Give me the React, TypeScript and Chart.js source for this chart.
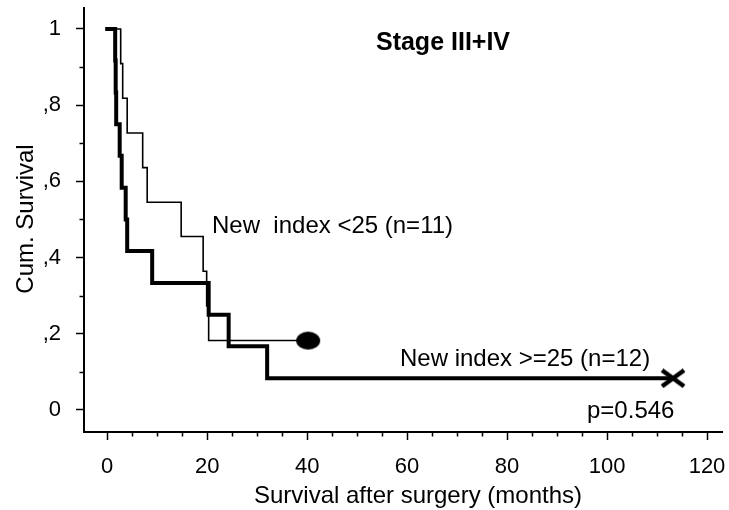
import React, { useEffect, useRef } from "react";
import { Chart, registerables } from "chart.js";

Chart.register(...registerables);

// Kaplan-Meier curves (months, cumulative survival)
const lowMonths = [0, 2.7, 3.1, 4.0, 7.1, 8.0, 14.8, 19.2, 19.9, 20.3, 40.2];
const lowSurvival = [1, 0.909, 0.818, 0.727, 0.636, 0.545, 0.455, 0.364, 0.273, 0.182, 0.182];
const highMonths = [0, 1.6, 1.7, 1.8, 2.5, 2.9, 3.7, 4.0, 9.0, 20.3, 24.3, 32.0, 113.2];
const highSurvival = [1, 0.917, 0.833, 0.75, 0.667, 0.583, 0.5, 0.417, 0.333, 0.25, 0.167, 0.083, 0.083];

const xMajorTicks = [0, 20, 40, 60, 80, 100, 120];
const xTickLabels = ["0", "20", "40", "60", "80", "100", "120"];
const xMinorTicks = [5, 10, 15, 25, 30, 35, 45, 50, 55, 65, 70, 75, 85, 90, 95, 105, 110, 115];
const yMajorTicks = [0, 0.2, 0.4, 0.6, 0.8, 1];
const yTickLabels = ["0", ",2", ",4", ",6", ",8", "1"];
const yMinorTicks = [0.1, 0.3, 0.5, 0.7, 0.9];

const titleText = "Stage III+IV";
const lowLabel = "New  index <25 (n=11)";
const highLabel = "New index >=25 (n=12)";
const pText = "p=0.546";
const xTitle = "Survival after surgery (months)";
const yTitle = "Cum. Survival";

const FONT = "'Liberation Sans', Arial, sans-serif";

function makeDot(): HTMLCanvasElement {
  const c = document.createElement("canvas");
  c.width = 26;
  c.height = 20;
  const g = c.getContext("2d")!;
  g.fillStyle = "#000";
  g.beginPath();
  g.ellipse(13, 10, 12, 9, 0, 0, Math.PI * 2);
  g.fill();
  return c;
}

function makeCross(): HTMLCanvasElement {
  const c = document.createElement("canvas");
  c.width = 26;
  c.height = 20;
  const g = c.getContext("2d")!;
  g.strokeStyle = "#000";
  g.lineWidth = 4.5;
  g.beginPath();
  g.moveTo(2, 2);
  g.lineTo(24, 18);
  g.moveTo(24, 2);
  g.lineTo(2, 18);
  g.stroke();
  return c;
}

const extrasPlugin = {
  id: "extras",
  afterDraw(chart: any) {
    const ctx = chart.ctx as CanvasRenderingContext2D;
    const xs = chart.scales.x;
    const ys = chart.scales.y;
    const area = chart.chartArea;
    ctx.save();
    ctx.strokeStyle = "#000";
    ctx.lineWidth = 1.5;
    ctx.beginPath();
    for (const v of xMinorTicks) {
      const px = Math.round(xs.getPixelForValue(v)) + 0.5;
      ctx.moveTo(px, area.bottom);
      ctx.lineTo(px, area.bottom + 4.5);
    }
    for (const v of yMinorTicks) {
      const py = Math.round(ys.getPixelForValue(v)) + 0.5;
      ctx.moveTo(area.left, py);
      ctx.lineTo(area.left - 4.5, py);
    }
    ctx.stroke();

    ctx.fillStyle = "#000";
    ctx.textBaseline = "alphabetic";
    ctx.font = `bold 25px ${FONT}`;
    ctx.textAlign = "center";
    ctx.fillText(titleText, 443, 50);

    ctx.font = `24px ${FONT}`;
    ctx.textAlign = "left";
    ctx.fillText(lowLabel, 212, 233);
    ctx.fillText(highLabel, 400, 366);
    ctx.fillText(pText, 587, 418);

    ctx.textAlign = "center";
    ctx.fillText(xTitle, 418, 503);

    ctx.translate(33, 219);
    ctx.rotate(-Math.PI / 2);
    ctx.fillText(yTitle, 0, 0);
    ctx.restore();
  },
};

export default function App() {
  const ref = useRef<HTMLCanvasElement>(null);

  useEffect(() => {
    if (!ref.current) return;
    const dot = makeDot();
    const cross = makeCross();
    const lowData = lowMonths.map((m, i) => ({ x: m, y: lowSurvival[i] }));
    const highData = highMonths.map((m, i) => ({ x: m, y: highSurvival[i] }));

    const chart = new Chart(ref.current, {
      type: "line",
      data: {
        datasets: [
          {
            label: highLabel,
            data: highData,
            stepped: "before",
            borderColor: "#000",
            borderWidth: 4,
            borderCapStyle: "square",
            fill: false,
            pointRadius: (c: any) => (c.dataIndex === highData.length - 1 ? 10 : 0),
            pointStyle: cross as any,
          },
          {
            label: lowLabel,
            data: lowData,
            stepped: "before",
            borderColor: "#000",
            borderWidth: 1.6,
            borderCapStyle: "square",
            fill: false,
            pointRadius: (c: any) => (c.dataIndex === lowData.length - 1 ? 10 : 0),
            pointStyle: dot as any,
          },
        ],
      },
      options: {
        responsive: false,
        animation: false,
        events: [],
        layout: { autoPadding: false, padding: { top: 8, right: 7, left: 0, bottom: 0 } },
        plugins: {
          legend: { display: false },
          tooltip: { enabled: false },
          title: { display: false },
        },
        scales: {
          x: {
            type: "linear",
            min: -4.64,
            max: 123,
            afterBuildTicks: (s: any) => {
              s.ticks = xMajorTicks.map((v) => ({ value: v }));
            },
            afterFit: (s: any) => {
              s.height = 78;
              s.paddingLeft = 0;
              s.paddingRight = 0;
              s.paddingTop = 0;
              s.paddingBottom = 0;
            },
            grid: {
              display: true,
              drawOnChartArea: false,
              drawTicks: true,
              tickLength: 8,
              tickWidth: 1.5,
              tickColor: "#000",
            },
            border: { display: true, color: "#000", width: 2 },
            ticks: {
              color: "#000",
              font: { family: FONT, size: 22 },
              padding: 14,
              maxRotation: 0,
              autoSkip: false,
              callback: (_v: any, i: number) => xTickLabels[i],
            },
          },
          y: {
            type: "linear",
            min: -0.058,
            max: 1.055,
            afterBuildTicks: (s: any) => {
              s.ticks = yMajorTicks.map((v) => ({ value: v }));
            },
            afterFit: (s: any) => {
              s.width = 84;
              s.paddingLeft = 0;
              s.paddingRight = 0;
              s.paddingTop = 0;
              s.paddingBottom = 0;
            },
            grid: {
              display: true,
              drawOnChartArea: false,
              drawTicks: true,
              tickLength: 8,
              tickWidth: 1.5,
              tickColor: "#000",
            },
            border: { display: true, color: "#000", width: 2 },
            ticks: {
              color: "#000",
              font: { family: FONT, size: 22 },
              padding: 15,
              autoSkip: false,
              callback: (_v: any, i: number) => yTickLabels[i],
            },
          },
        },
      },
      plugins: [extrasPlugin],
    });
    return () => chart.destroy();
  }, []);

  return (
    <div style={{ position: "fixed", left: 0, top: 0, width: 729, height: 510, background: "#fff" }}>
      <canvas ref={ref} width={729} height={510} style={{ width: 729, height: 510, display: "block" }} />
    </div>
  );
}
